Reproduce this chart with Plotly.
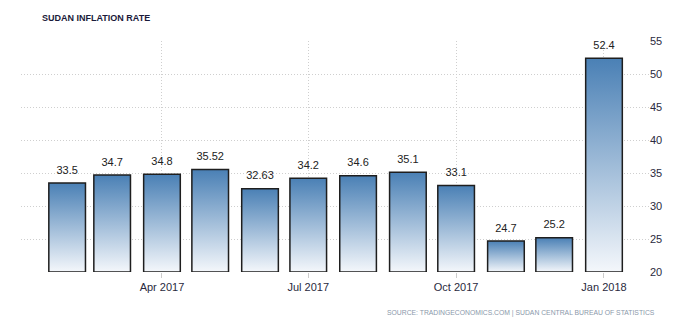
import plotly.graph_objects as go
import pandas as pd

# ---- data ----
months = ["2017-02-01", "2017-03-01", "2017-04-01", "2017-05-01", "2017-06-01", "2017-07-01",
          "2017-08-01", "2017-09-01", "2017-10-01", "2017-11-01", "2017-12-01", "2018-01-01"]
values = [33.5, 34.7, 34.8, 35.52, 32.63, 34.2, 34.6, 35.1, 33.1, 24.7, 25.2, 52.4]
value_labels = ["33.5", "34.7", "34.8", "35.52", "32.63", "34.2", "34.6", "35.1", "33.1",
                "24.7", "25.2", "52.4"]
tick_dates = ["2017-04-01", "2017-07-01", "2017-10-01", "2018-01-01"]
tick_text = ["Apr 2017", "Jul 2017", "Oct 2017", "Jan 2018"]
y_ticks = [20, 25, 30, 35, 40, 45, 50, 55]

BASE = 20
W, H = 700, 326
ML, MR, MT, MB = 21, 51, 41, 54
FONT = "Liberation Sans, Arial, sans-serif"
GRID_DASH = "1px,2px"

fig = go.Figure()

half = pd.Timedelta(hours=11.4 * 24)
for d, v in zip(months, values):
    t = pd.Timestamp(d)
    xs = [t - half, t + half, t + half, t - half, t - half]
    ys = [BASE, BASE, v, v, BASE]
    fig.add_trace(go.Scatter(
        x=xs, y=ys, mode="lines", fill="toself",
        fillgradient=dict(type="vertical",
                          colorscale=[[0, "#f4f7fb"], [1, "#4a80b5"]]),
        line=dict(color="#1e1e1e", width=1.5),
        cliponaxis=False, hoverinfo="skip", showlegend=False,
    ))

fig.add_trace(go.Scatter(
    x=months, y=values, mode="markers+text", text=value_labels,
    marker=dict(size=9, color="rgba(0,0,0,0)"),
    textposition="top center",
    textfont=dict(family=FONT, size=11, color="#222222"),
    cliponaxis=False, showlegend=False, hoverinfo="skip",
))

fig.update_layout(
    width=W, height=H,
    margin=dict(l=ML, r=MR, t=MT, b=MB, pad=0),
    paper_bgcolor="white", plot_bgcolor="white",
    title=dict(text="<b>SUDAN INFLATION RATE</b>", x=42 / W, xref="container", xanchor="left",
               y=1 - 18 / H, yref="container", yanchor="middle",
               font=dict(family=FONT, size=9, color="#1a1a3a")),
    xaxis=dict(
        type="date", range=["2017-01-03 07:00", "2018-01-29"],
        tickmode="array", tickvals=tick_dates, ticktext=tick_text,
        showgrid=True, gridcolor="#cfcfcf", griddash=GRID_DASH, gridwidth=1,
        ticks="outside", ticklen=5, tickcolor="#cccccc",
        showline=False, zeroline=False,
        tickfont=dict(family=FONT, size=11, color="#2a2a40"),
    ),
    yaxis=dict(
        side="right", range=[20, 55], tickmode="array", tickvals=y_ticks,
        showgrid=True, gridcolor="#cfcfcf", griddash=GRID_DASH, gridwidth=1,
        ticks="", showline=False, zeroline=False,
        tickfont=dict(family=FONT, size=11, color="#2a2a40"),
    ),
    annotations=[dict(
        text="SOURCE: TRADINGECONOMICS.COM | SUDAN CENTRAL BUREAU OF STATISTICS",
        xref="paper", yref="paper",
        x=(657 - ML) / (W - ML - MR), y=-(313 - (H - MB)) / (H - MT - MB),
        xanchor="right", yanchor="middle", showarrow=False,
        font=dict(family=FONT, size=6.8, color="#8a98aa"),
    )],
)

fig.write_html("out.html")
